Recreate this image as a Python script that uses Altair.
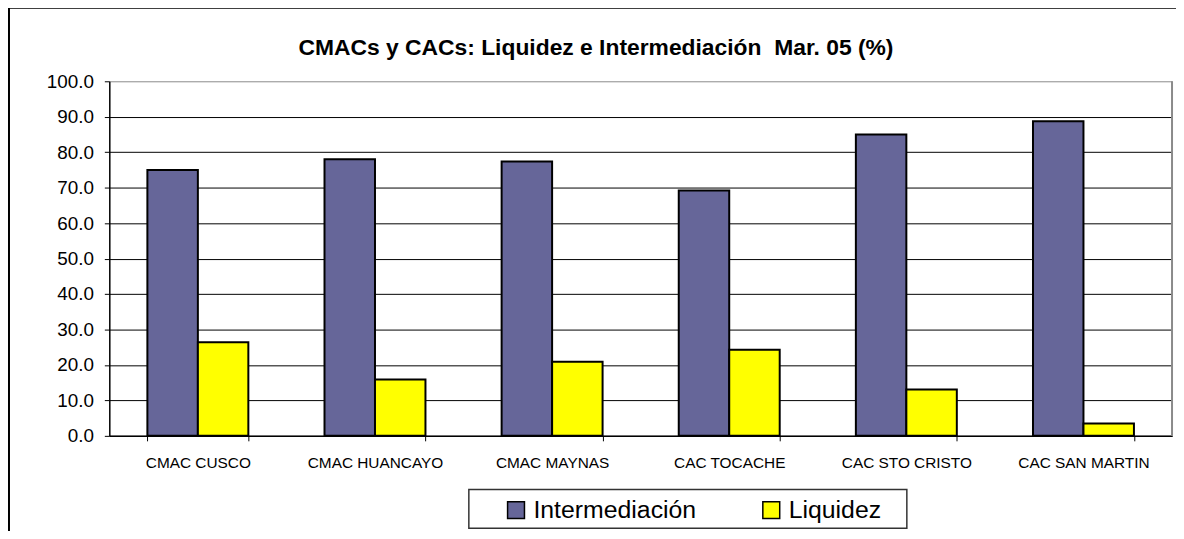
import altair as alt
import pandas as pd

TITLE = "CMACs y CACs: Liquidez e Intermediación \u00a0Mar. 05 (%)"
categories = ["CMAC CUSCO", "CMAC HUANCAYO", "CMAC MAYNAS", "CAC TOCACHE", "CAC STO CRISTO", "CAC SAN MARTIN"]
series = ["Intermediación", "Liquidez"]
intermediacion = [75.0, 78.0, 77.4, 69.2, 85.0, 88.7]
liquidez = [26.4, 15.9, 20.9, 24.3, 13.1, 3.5]
colors = ["#666699", "#FFFF00"]
y_ticks = [0, 10, 20, 30, 40, 50, 60, 70, 80, 90, 100]

rows = []
for c, a, b in zip(categories, intermediacion, liquidez):
    rows.append({"cat": c, "serie": series[0], "val": a})
    rows.append({"cat": c, "serie": series[1], "val": b})
df = pd.DataFrame(rows)

FONT = "Liberation Sans"
W, H = 1070, 357

bars = alt.Chart(df).mark_bar(stroke="black", strokeWidth=2, opacity=1).encode(
    x=alt.X("cat:N", sort=categories, title=None,
            scale=alt.Scale(paddingInner=0.43, paddingOuter=0.215),
            axis=alt.Axis(labelAngle=0, labelFont=FONT, labelFontSize=15.5, labelColor="black",
                          tickBand="extent", ticks=True, tickSize=5, tickColor="black",
                          domainColor="black", domainWidth=1.5, labelPadding=15, grid=False)),
    xOffset=alt.XOffset("serie:N", sort=series, scale=alt.Scale(paddingInner=0, paddingOuter=0)),
    y=alt.Y("val:Q", title=None,
            scale=alt.Scale(domain=[0, 100], nice=False),
            axis=alt.Axis(values=y_ticks, format=".1f", labelFont=FONT, labelFontSize=19,
                          labelColor="black", tickSize=5, tickColor="black",
                          domainColor="black", domainWidth=1.5, labelPadding=11,
                          grid=True, gridWidth=1,
                          gridColor={"condition": {"test": "datum.value === 100", "value": "#8a8a8a"},
                                     "value": "#000000"})),
    color=alt.Color("serie:N", sort=series,
                    scale=alt.Scale(domain=series, range=colors),
                    legend=alt.Legend(orient="none", legendX=397, legendY=419, direction="horizontal",
                                      columns=2, title=None, symbolType="square", symbolSize=289,
                                      symbolStrokeColor="black", symbolStrokeWidth=1.5,
                                      symbolOpacity=1, labelFont=FONT, labelFontSize=25,
                                      labelLimit=400, labelColor="black", labelOffset=5,
                                      columnPadding=63, padding=0)),
)

one = alt.Data(values=[{"k": 1}])

title = alt.Chart(one).mark_text(text=TITLE, font=FONT, fontSize=23, fontWeight="bold",
                                 align="center", baseline="alphabetic", color="black").encode(
    x=alt.value(490), y=alt.value(-26))

border_top = alt.Chart(one).mark_rule(color="black", strokeWidth=2).encode(
    x=alt.value(-101), x2=alt.value(1400), y=alt.value(-74))
border_left = alt.Chart(one).mark_rule(color="black", strokeWidth=2).encode(
    x=alt.value(-101), y=alt.value(-74), y2=alt.value(600))
plot_right = alt.Chart(one).mark_rule(color="#8a8a8a", strokeWidth=2).encode(
    x=alt.value(W), y=alt.value(0), y2=alt.value(H))

legend_box = alt.Chart(one).mark_rect(fill="transparent", stroke="#333333", strokeWidth=1.5).encode(
    x=alt.value(362), x2=alt.value(803), y=alt.value(411), y2=alt.value(450))

chart = alt.layer(legend_box, bars, plot_right, title, border_top, border_left).properties(
    width=W, height=H,
    autosize=alt.AutoSizeParams(type="none"),
    padding={"left": 102, "top": 72, "right": 4, "bottom": 94},
    background="white",
).configure_view(stroke="transparent", strokeWidth=0)

chart.save("out.html", embed_options={"renderer": "svg", "actions": False})
